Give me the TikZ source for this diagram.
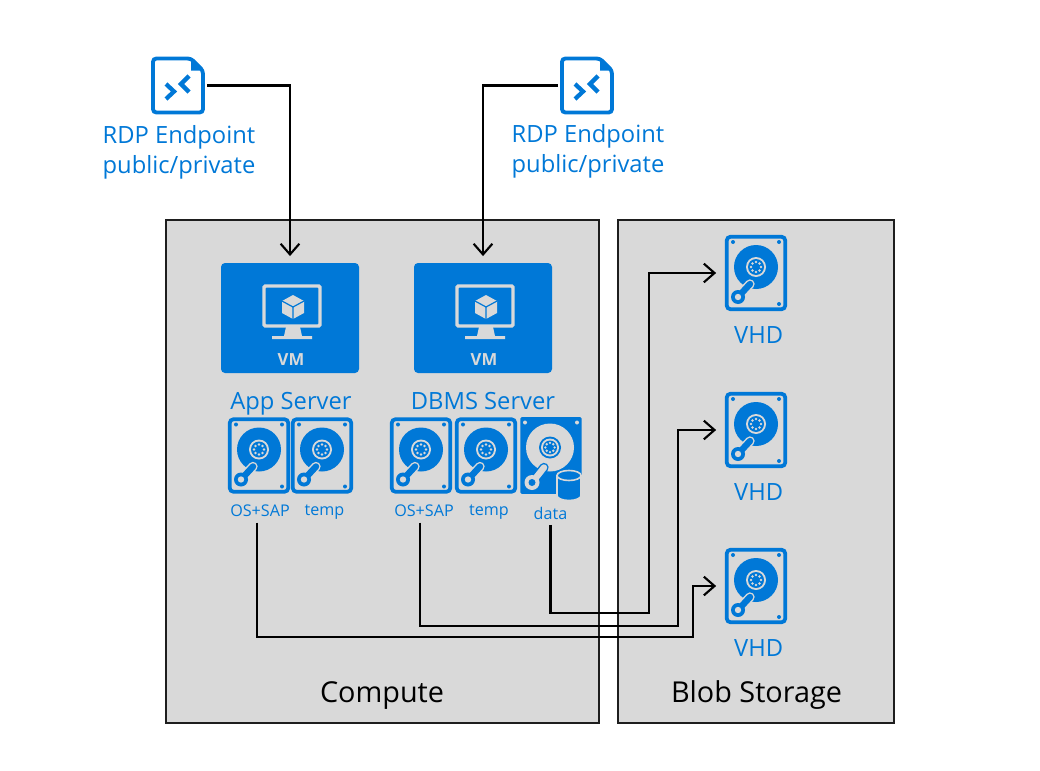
\documentclass[tikz,border=0pt]{standalone}
\usepackage{fontspec}
\setmainfont{Open Sans}
\usetikzlibrary{arrows.meta, positioning, calc}
\definecolor{AzureBlue}{RGB}{0, 120, 215}
\definecolor{PanelGray}{RGB}{217, 217, 217}
\definecolor{EdgeDark}{RGB}{30, 30, 30}

\tikzset{
    hddicon/.pic={
        \fill[AzureBlue] (0,-6) circle (22);
        \fill[PanelGray] (0,-6) circle (10);
        \fill[AzureBlue] (0,-6) circle (8);
        \foreach \a in {0,45,...,315} {
            \fill[PanelGray] ($(0,-6)+(\a:5)$) circle (1.4);
        }
        \draw[PanelGray, line width=7pt, line cap=round] (-17,23) -- (-6,11);
        \draw[AzureBlue, line width=4.8pt, line cap=round] (-17,23) -- (-6,11);
        \fill[AzureBlue] (-18,24) circle (7);
        \fill[PanelGray] (-18,24) circle (3.2);
        \foreach \p in {(-23,-31),(23,-31),(23,31)} {
            \fill[AzureBlue] \p circle (2);
        }
    },
    dataicon/.pic={
        \fill[PanelGray] (-1,-8) circle (24);
        \fill[AzureBlue] (-1,-8) circle (11);
        \fill[PanelGray] (-1,-8) circle (9);
        \fill[AzureBlue] (-1,-8) circle (7);
        \foreach \a in {0,45,...,315} {
            \fill[PanelGray] ($(-1,-8)+(\a:4.6)$) circle (1.3);
        }
        \draw[AzureBlue, line width=7pt, line cap=round] (-18,26) -- (-7,12);
        \draw[PanelGray, line width=4.8pt, line cap=round] (-18,26) -- (-7,12);
        \fill[PanelGray] (-19,27) circle (7.5);
        \fill[AzureBlue] (-19,27) circle (3.5);
        \foreach \p in {(-26,-33),(26,-33)} {
            \fill[PanelGray] \p circle (2);
        }
        % database drum
        \filldraw[fill=AzureBlue, draw=PanelGray, line width=1.2pt] (6,20) -- (6,40) arc[start angle=180, end angle=0, x radius=12, y radius=5] -- (30,20) arc[start angle=0, end angle=-180, x radius=12, y radius=5] -- cycle;
        \draw[PanelGray, line width=1.2pt] (6,20) arc[start angle=180, end angle=0, x radius=12, y radius=5];
    },
    vmicon/.pic={
        \draw[PanelGray, line width=2.6pt, rounded corners=1pt] (-26,-32) rectangle (30,8);
        \fill[PanelGray] (-4,9) -- (10,9) -- (12,18) -- (22,18) -- (22,21) -- (-18,21) -- (-18,18) -- (-6,18) -- cycle;
        \fill[PanelGray] (3,-23) -- (14,-17) -- (14,-5) -- (3,1) -- (-8,-5) -- (-8,-17) -- cycle;
        \draw[AzureBlue, line width=0.9pt] (-8,-17) -- (3,-11) -- (14,-17) (3,-11) -- (3,1);
        \node[font=\fontsize{12.5}{14}\selectfont\bfseries, text=PanelGray] (-vmtag) at (1,42) {VM};
    },
    rdpicon/.pic={
        \draw[AzureBlue, line width=2.9pt, rounded corners=2.5pt] (-25,-27) -- (13,-27) -- (25,-15) -- (25,27) -- (-25,27) -- cycle;
        \fill[AzureBlue] (13,-27) -- (25,-15) -- (13,-15) -- cycle;
        \draw[AzureBlue, line width=3.2pt] (-12,-1.5) -- (-4,6) -- (-12,13.5);
        \draw[AzureBlue, line width=3.2pt] (11,-9.5) -- (3,-1.5) -- (11,6.5);
    }
}

\begin{document}
\begin{tikzpicture}[
        x=0.75pt, y=-0.75pt,
        panel/.style={rectangle, draw=EdgeDark, fill=PanelGray, line width=1.1pt, minimum height=377.25pt},
        vmbox/.style={rectangle, rounded corners=3pt, fill=AzureBlue, minimum width=103.5pt, minimum height=82.5pt},
        hddbox/.style={rectangle, rounded corners=3pt, draw=AzureBlue, line width=2.8pt, minimum width=44pt, minimum height=54.5pt},
        databox/.style={rectangle, rounded corners=1pt, fill=AzureBlue, minimum width=46pt, minimum height=57.5pt},
        rdpbox/.style={rectangle, minimum width=43.5pt, minimum height=43pt},
        bluetext/.style={text=AzureBlue, font=\fontsize{17.8}{22.5}\selectfont, align=left, inner sep=0pt},
        vhdtext/.style={bluetext, xshift=2pt, below=11pt of #1},
        smalltext/.style={text=AzureBlue, font=\fontsize{12.1}{13}\selectfont, inner sep=0pt},
        paneltext/.style={text=black, font=\fontsize{21.6}{24}\selectfont, inner sep=0pt},
        link/.style={draw=black, line width=1.6pt},
        tiplink/.style={link, -{Straight Barb[length=8pt,width=14pt]}, shorten >=5pt}
    ]
        \useasboundingbox (0,0) rectangle (1040,771);

        % Panels
        \node[panel, minimum width=324.75pt] (compute) at (382.5,471.5) {};
        \node[panel, minimum width=207pt] (blob) at (756,471.5) {};
        \node[paneltext] (computeLbl) at (382,696) {Compute};
        \node[paneltext] (blobLbl) at (756.5,695) {Blob Storage};

        % RDP endpoints
        \node[rdpbox] (rdpA) at (178,85.5) {};
        \pic at (rdpA) {rdpicon};
        \node[bluetext, xshift=0.75pt, below=8pt of rdpA] (rdpAlbl) {RDP Endpoint\\public/private};
        \node[rdpbox] (rdpB) at (587,85.5) {};
        \pic at (rdpB) {rdpicon};
        \node[bluetext, xshift=0.75pt, below=7.5pt of rdpB] (rdpBlbl) {RDP Endpoint\\public/private};

        % App server
        \node[vmbox] (vmA) at (290,318) {};
        \pic (vmApic) at (vmA) {vmicon};
        \node[bluetext] (appLbl) at (291,404) {App Server};
        \node[hddbox] (osA) at (259,455.5) {};
        \pic at (osA) {hddicon};
        \node[hddbox] (tempA) at (322,455.5) {};
        \pic at (tempA) {hddicon};
        \node[smalltext] (osAlbl) at (260,511) {OS+SAP};
        \node[smalltext] (tempAlbl) at (324.5,512.5) {temp};

        % DBMS server
        \node[vmbox] (vmB) at (483,318) {};
        \pic (vmBpic) at (vmB) {vmicon};
        \node[bluetext] (dbLbl) at (483,401) {DBMS Server};
        \node[hddbox] (osB) at (421,455.5) {};
        \pic at (osB) {hddicon};
        \node[hddbox] (tempB) at (486,455.5) {};
        \pic at (tempB) {hddicon};
        \node[databox] (dataB) at (551,455.5) {};
        \pic at (dataB) {dataicon};
        \node[smalltext] (osBlbl) at (424,511) {OS+SAP};
        \node[smalltext] (tempBlbl) at (489,512.5) {temp};
        \node[smalltext] (dataBlbl) at (550.5,513) {data};

        % Blob disks
        \node[hddbox] (vhdA) at (756,273) {};
        \pic at (vhdA) {hddicon};
        \node[vhdtext=vhdA] (vhdAlbl) {VHD};
        \node[hddbox] (vhdB) at (756,430) {};
        \pic at (vhdB) {hddicon};
        \node[vhdtext=vhdB] (vhdBlbl) {VHD};
        \node[hddbox] (vhdC) at (756,586) {};
        \pic at (vhdC) {hddicon};
        \node[vhdtext=vhdC] (vhdClbl) {VHD};

        % Connections
        \draw[tiplink] (rdpA.east) -| (vmA.north);
        \draw[tiplink] (rdpB.west) -| (vmB.north);
        \draw[tiplink, shorten >=6.5pt] ([yshift=-4pt]dataBlbl.south) |- (649,613) -- (649,273) -- (vhdA.west);
        \draw[tiplink, shorten >=6.5pt] ([xshift=-3pt, yshift=-4pt]osBlbl.south) |- (678,626) -- (678,430) -- (vhdB.west);
        \draw[tiplink, shorten >=6.5pt] ([xshift=-2pt, yshift=-4pt]osAlbl.south) |- (693,637) -- (693,586) -- (vhdC.west);
    \end{tikzpicture}
\end{document}
